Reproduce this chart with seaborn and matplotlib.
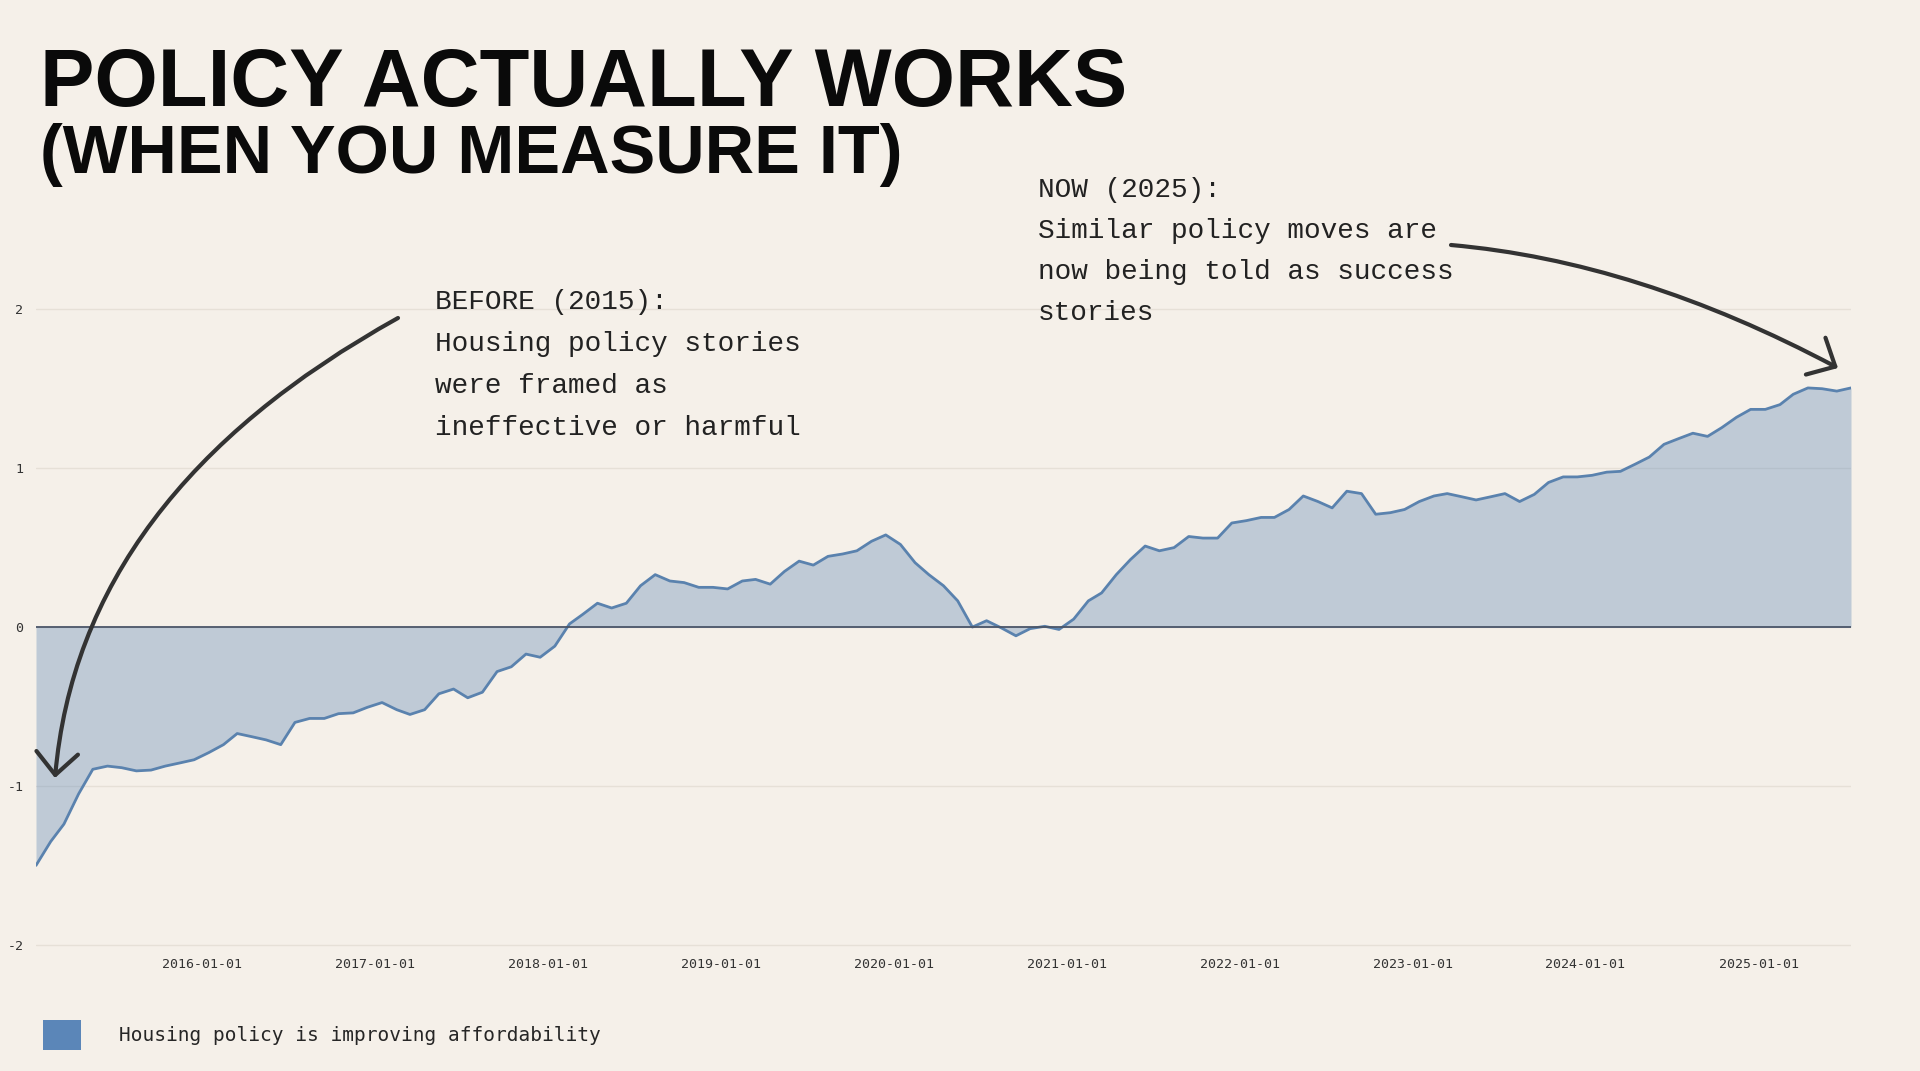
import pandas as pd
import numpy as np
import matplotlib.pyplot as plt
import matplotlib.dates as mdates
from matplotlib.patches import Patch
import seaborn as sns

# monthly readings of the affordability index (mid-month), Jan 2015 - Jul 2025
vals_2015 = [-1.50, -1.35, -1.24, -1.05, -0.895, -0.875, -0.885, -0.905, -0.90, -0.875, -0.855, -0.835]
vals_2016 = [-0.79, -0.74, -0.67, -0.69, -0.71, -0.74, -0.60, -0.575, -0.575, -0.545, -0.54, -0.505]
vals_2017 = [-0.475, -0.52, -0.55, -0.52, -0.42, -0.39, -0.445, -0.41, -0.28, -0.25, -0.17, -0.19]
vals_2018 = [-0.12, 0.02, 0.08, 0.15, 0.12, 0.15, 0.26, 0.33, 0.29, 0.28, 0.25, 0.25]
vals_2019 = [0.24, 0.29, 0.30, 0.27, 0.35, 0.415, 0.39, 0.445, 0.46, 0.48, 0.54, 0.58]
vals_2020 = [0.52, 0.405, 0.33, 0.26, 0.165, 0.0, 0.04, -0.005, -0.055, -0.01, 0.005, -0.015]
vals_2021 = [0.05, 0.165, 0.215, 0.33, 0.425, 0.51, 0.48, 0.50, 0.57, 0.56, 0.56, 0.655]
vals_2022 = [0.67, 0.69, 0.69, 0.74, 0.825, 0.79, 0.75, 0.855, 0.84, 0.71, 0.72, 0.74]
vals_2023 = [0.79, 0.825, 0.84, 0.82, 0.80, 0.82, 0.84, 0.79, 0.835, 0.91, 0.945, 0.945]
vals_2024 = [0.955, 0.975, 0.98, 1.025, 1.07, 1.15, 1.185, 1.22, 1.20, 1.255, 1.32, 1.37]
vals_2025 = [1.37, 1.40, 1.465, 1.505, 1.50, 1.485, 1.505]

values = (vals_2015 + vals_2016 + vals_2017 + vals_2018 + vals_2019 + vals_2020
          + vals_2021 + vals_2022 + vals_2023 + vals_2024 + vals_2025)
dates = pd.date_range('2015-01-01', periods=len(values), freq='MS') + pd.Timedelta(days=14)
df = pd.DataFrame({'date': dates, 'index': values})

y_ticks = [-2, -1, 0, 1, 2]
legend_label = 'Housing policy is improving affordability'
title_1 = 'POLICY ACTUALLY WORKS'
title_2 = '(WHEN YOU MEASURE IT)'
note_before = ['BEFORE (2015):', 'Housing policy stories', 'were framed as', 'ineffective or harmful']
note_now = ['NOW (2025):', 'Similar policy moves are', 'now being told as success', 'stories']

bg = '#F5F0E9'
fill_col = '#5B85B5'
line_col = '#5A82AE'

sns.set_theme(style='white', rc={'figure.facecolor': bg, 'axes.facecolor': bg})
plt.rcParams['axes.unicode_minus'] = False
plt.rcParams['font.family'] = ['DejaVu Sans Mono']

W, H = 1920, 1071
fig = plt.figure(figsize=(19.2, 10.71), dpi=100)
ax = fig.add_axes([36 / W, 0.1148, (1851 - 36) / W, 0.5994])
ax.patch.set_alpha(0)

ax.fill_between(df['date'], df['index'], 0, color=fill_col, alpha=0.35, linewidth=0)
sns.lineplot(data=df, x='date', y='index', ax=ax, color=line_col, linewidth=2)
ax.axhline(0, color='#4A5568', lw=1.3, zorder=3)

ax.set_xlim(df['date'].iloc[0], df['date'].iloc[-1])
ax.set_ylim(-2.02, 2.02)
ax.set_yticks(y_ticks)
ax.yaxis.grid(True, color='#E6E0D7', lw=1)
ax.xaxis.grid(False)
ax.set_axisbelow(True)
ax.xaxis.set_major_locator(mdates.YearLocator())
ax.xaxis.set_major_formatter(mdates.DateFormatter('%Y-%m-%d'))
ax.tick_params(axis='both', length=0, labelsize=9.5, colors='#333333')
ax.tick_params(axis='y', pad=9)
ax.tick_params(axis='x', pad=7)
ax.set_xlabel('')
ax.set_ylabel('')
for s in ax.spines.values():
    s.set_visible(False)

# title
fig.text(40 / W, 1 - 106 / H, title_1, fontsize=58.7, fontweight='bold',
         family='Liberation Sans', va='baseline', color='#0A0A0A')
fig.text(40 / W, 1 - 173 / H, title_2, fontsize=49.3, fontweight='bold',
         family='Liberation Sans', va='baseline', color='#0A0A0A')

# hand-written style notes
for i, line in enumerate(note_before):
    fig.text(435 / W, 1 - (309 + 42 * i) / H, line, fontsize=20, family='Liberation Mono',
             va='baseline', color='#222222')
for i, line in enumerate(note_now):
    fig.text(1038 / W, 1 - (197 + 41 * i) / H, line, fontsize=20, family='Liberation Mono',
             va='baseline', color='#222222')

arrow_kw = dict(arrowstyle='->,head_length=0.8,head_width=0.75', color='#333333',
                lw=3, shrinkA=0, shrinkB=0, mutation_scale=20)
ax.annotate('', xy=(55 / W, 1 - 778 / H), xytext=(398 / W, 1 - 318 / H),
            xycoords='figure fraction', textcoords='figure fraction',
            arrowprops=dict(connectionstyle='angle3,angleA=29,angleB=85', **arrow_kw))
ax.annotate('', xy=(1838 / W, 1 - 368 / H), xytext=(1451 / W, 1 - 245 / H),
            xycoords='figure fraction', textcoords='figure fraction',
            arrowprops=dict(connectionstyle='angle3,angleA=-5,angleB=-28', **arrow_kw))

# legend
handle = Patch(facecolor='#5B86B8', edgecolor='none')
fig.legend([handle], [legend_label], loc='center left', bbox_to_anchor=(43 / W, 1 - 1035 / H),
           frameon=False, handlelength=1.95, handleheight=1.95,
           handletextpad=1.95, borderpad=0, borderaxespad=0,
           prop={'family': 'DejaVu Sans Mono', 'size': 14})

fig.savefig('out.png', dpi=100, facecolor=bg)
